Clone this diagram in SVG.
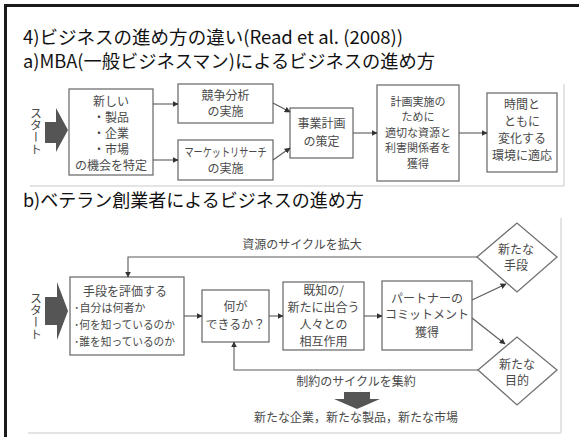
<svg xmlns="http://www.w3.org/2000/svg" width="579" height="437" viewBox="0 0 579 437">
<defs>
<style>
.h{font-family:"Noto Sans CJK JP","Noto Sans",sans-serif;font-size:18px;fill:#111}
.t{font-family:"Noto Sans CJK JP","Noto Sans",sans-serif;font-size:12px;fill:#4a4a4a;text-anchor:middle}
.s{font-size:11px}
.tl{font-family:"Noto Sans CJK JP","Noto Sans",sans-serif;font-size:11px;fill:#4a4a4a}
.v{font-family:"Noto Sans CJK JP",sans-serif;font-size:12px;fill:#4a4a4a;writing-mode:vertical-rl}
.box{fill:#fff;stroke:#707070;stroke-width:1.3}
.ln{fill:none;stroke:#5a5a5a;stroke-width:1.1}
.fr{fill:none;stroke:#dcdcdc;stroke-width:1.5}
.big{fill:#555}
</style>
<marker id="ah" viewBox="0 0 10 10" refX="9" refY="5" markerWidth="6" markerHeight="6" orient="auto" markerUnits="userSpaceOnUse">
<path d="M0,0 L10,5 L0,10 z" fill="#333"/>
</marker>
</defs>
<rect width="579" height="437" fill="#fff"/>
<!-- outer frame -->
<line x1="4" y1="5.5" x2="579" y2="5.5" stroke="#1a1a1a" stroke-width="3"/>
<line x1="5.5" y1="4" x2="5.5" y2="437" stroke="#1a1a1a" stroke-width="3"/>
<!-- headings -->
<text class="h" x="23" y="44" textLength="380" lengthAdjust="spacingAndGlyphs">4)ビジネスの進め方の違い(Read et al. (2008))</text>
<text class="h" x="23" y="68" textLength="412" lengthAdjust="spacingAndGlyphs">a)MBA(一般ビジネスマン)によるビジネスの進め方</text>
<text class="h" x="23" y="207">b)ベテラン創業者によるビジネスの進め方</text>
<!-- panel frames -->
<path class="fr" d="M564,84 V186 M30,186 H564"/>
<path class="fr" d="M561,218 V433 M28,433 H561"/>

<!-- ===== Panel a ===== -->
<g id="a-start">
<polygon class="big" points="45,122 56,122 56,108 68,130 56,152 56,143 45,143"/>
<text class="v" x="36" y="107">スタート</text>
</g>
<g id="a-opportunity">
<rect class="box" x="69" y="89" width="84" height="86"/>
<text class="t" x="111" y="106">新しい</text>
<text class="t" x="111" y="122">・製品</text>
<text class="t" x="111" y="138">・企業</text>
<text class="t" x="111" y="154">・市場</text>
<text class="t" x="111" y="170">の機会を特定</text>
</g>
<g id="a-competition">
<rect class="box" x="178" y="84" width="95" height="39"/>
<text class="t" x="225.5" y="100">競争分析</text>
<text class="t" x="225.5" y="116">の実施</text>
</g>
<g id="a-market">
<rect class="box" x="178" y="140" width="95" height="40"/>
<text class="t" x="225.5" y="157" textLength="82" lengthAdjust="spacingAndGlyphs">マーケットリサーチ</text>
<text class="t" x="225.5" y="173">の実施</text>
</g>
<g id="a-plan">
<rect class="box" x="290" y="108" width="63" height="50"/>
<text class="t" x="321.5" y="128">事業計画</text>
<text class="t" x="321.5" y="146">の策定</text>
</g>
<g id="a-resources">
<rect class="box" x="377" y="85" width="82" height="96"/>
<text class="t s" x="418" y="106">計画実施の</text>
<text class="t s" x="418" y="121">ために</text>
<text class="t s" x="418" y="137">適切な資源と</text>
<text class="t s" x="418" y="152">利害関係者を</text>
<text class="t s" x="418" y="168">獲得</text>
</g>
<g id="a-adapt">
<rect class="box" x="487" y="93" width="70" height="79"/>
<text class="t" x="522" y="109">時間と</text>
<text class="t" x="522" y="126">ともに</text>
<text class="t" x="522" y="143">変化する</text>
<text class="t" x="522" y="160">環境に適応</text>
</g>

<!-- ===== Panel b ===== -->
<g id="b-start">
<polygon class="big" points="45,297 57,297 57,282 68,311 57,340 57,325 45,325"/>
<text class="v" x="36" y="292">スタート</text>
</g>
<g id="b-means">
<rect class="box" x="70" y="277" width="114" height="78"/>
<text class="t" x="125" y="296">手段を評価する</text>
<text class="tl" x="74" y="312">･自分は何者か</text>
<text class="tl" x="74" y="329" textLength="101" lengthAdjust="spacingAndGlyphs">･何を知っているのか</text>
<text class="tl" x="74" y="346" textLength="101" lengthAdjust="spacingAndGlyphs">･誰を知っているのか</text>
</g>
<g id="b-cando">
<rect class="box" x="202" y="290" width="67" height="52"/>
<text class="t" x="235.5" y="311">何が</text>
<text class="t" x="235.5" y="329">できるか？</text>
</g>
<g id="b-interact">
<rect class="box" x="283" y="282" width="81" height="68"/>
<text class="t" x="323.5" y="295">既知の/</text>
<text class="t" x="323.5" y="312">新たに出合う</text>
<text class="t" x="323.5" y="329">人々との</text>
<text class="t" x="323.5" y="346">相互作用</text>
</g>
<g id="b-commit">
<rect class="box" x="382" y="281" width="90" height="69"/>
<text class="t" x="427" y="303">パートナーの</text>
<text class="t" x="427" y="319">コミットメント</text>
<text class="t" x="427" y="337">獲得</text>
</g>
<g id="b-newmeans">
<polygon class="box" points="477,257 517,223 557,257 517,292"/>
<text class="t" x="516" y="254">新たな</text>
<text class="t" x="516" y="270">手段</text>
</g>
<g id="b-newgoal">
<polygon class="box" points="478,370 517,337 557,370 517,405"/>
<text class="t" x="517" y="369">新たな</text>
<text class="t" x="517" y="385">目的</text>
</g>
<g id="b-outcome">
<polygon class="big" points="344,392 370,392 370,399 380,399 357,409 334,399 344,399"/>
<text class="t" x="356" y="422">新たな企業，新たな製品，新たな市場</text>
</g>

<!-- connectors -->
<g id="connectors">
<line class="ln" x1="153" y1="104" x2="178" y2="104" marker-end="url(#ah)"/>
<line class="ln" x1="153" y1="160" x2="178" y2="160" marker-end="url(#ah)"/>
<line class="ln" x1="273" y1="103" x2="290" y2="112" marker-end="url(#ah)"/>
<line class="ln" x1="273" y1="160" x2="290" y2="148" marker-end="url(#ah)"/>
<line class="ln" x1="353" y1="133" x2="377" y2="133" marker-end="url(#ah)"/>
<line class="ln" x1="459" y1="133" x2="487" y2="133" marker-end="url(#ah)"/>

<polyline class="ln" points="477,257 128,257 128,277" marker-end="url(#ah)"/>
<text class="t" x="302" y="249">資源のサイクルを拡大</text>
<line class="ln" x1="184" y1="316" x2="202" y2="316" marker-end="url(#ah)"/>
<line class="ln" x1="269" y1="316" x2="283" y2="316" marker-end="url(#ah)"/>
<line class="ln" x1="364" y1="316" x2="382" y2="316" marker-end="url(#ah)"/>
<line class="ln" x1="472" y1="300" x2="506" y2="284" marker-end="url(#ah)"/>
<line class="ln" x1="472" y1="318" x2="505" y2="344" marker-end="url(#ah)"/>
<polyline class="ln" points="478,370 234,370 234,342" marker-end="url(#ah)"/>
<text class="t" x="356" y="386">制約のサイクルを集約</text>
</g>
</svg>
